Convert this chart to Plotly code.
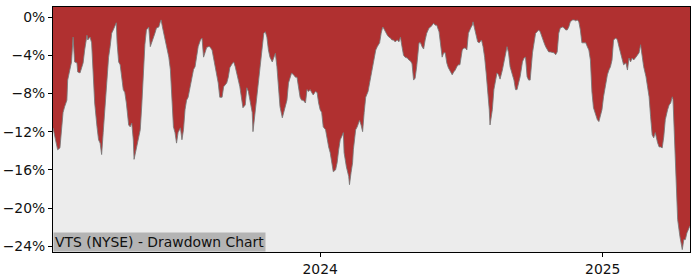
import plotly.graph_objects as go

# ---------------- data ----------------
DATES_2023 = [
    "2023-01-20", "2023-01-23", "2023-01-26", "2023-01-29", "2023-01-31",
    "2023-02-02", "2023-02-04", "2023-02-07", "2023-02-08", "2023-02-11", "2023-02-13", "2023-02-15",
    "2023-02-17", "2023-02-20", "2023-02-21", "2023-02-24", "2023-02-26", "2023-02-28",
    "2023-03-02", "2023-03-05", "2023-03-06", "2023-03-09", "2023-03-11", "2023-03-13", "2023-03-15",
    "2023-03-18", "2023-03-20", "2023-03-22", "2023-03-24", "2023-03-26", "2023-03-28", "2023-03-31",
    "2023-04-02", "2023-04-04", "2023-04-06", "2023-04-08", "2023-04-10", "2023-04-12", "2023-04-13",
    "2023-04-15", "2023-04-17", "2023-04-19", "2023-04-21", "2023-04-23", "2023-04-25", "2023-04-28",
    "2023-04-30",
    "2023-05-02", "2023-05-04", "2023-05-05", "2023-05-08", "2023-05-11", "2023-05-13", "2023-05-15",
    "2023-05-17", "2023-05-19", "2023-05-21", "2023-05-24", "2023-05-26", "2023-05-28", "2023-05-30",
    "2023-06-01", "2023-06-03", "2023-06-06", "2023-06-08", "2023-06-09", "2023-06-11", "2023-06-14",
    "2023-06-16", "2023-06-19", "2023-06-21", "2023-06-23", "2023-06-25", "2023-06-27", "2023-06-29",
    "2023-07-01", "2023-07-04", "2023-07-06", "2023-07-08", "2023-07-10", "2023-07-12", "2023-07-14",
    "2023-07-17", "2023-07-19", "2023-07-21", "2023-07-23", "2023-07-25", "2023-07-27", "2023-07-30",
    "2023-08-01", "2023-08-03", "2023-08-05", "2023-08-07", "2023-08-09", "2023-08-11", "2023-08-14",
    "2023-08-16", "2023-08-18", "2023-08-20", "2023-08-22", "2023-08-24", "2023-08-27", "2023-08-29",
    "2023-08-31",
    "2023-09-02", "2023-09-04", "2023-09-06", "2023-09-09", "2023-09-11", "2023-09-13", "2023-09-15",
    "2023-09-17", "2023-09-19", "2023-09-22", "2023-09-23", "2023-09-26", "2023-09-28", "2023-09-30",
    "2023-10-02", "2023-10-05", "2023-10-06", "2023-10-08", "2023-10-10", "2023-10-11", "2023-10-13",
    "2023-10-15", "2023-10-18", "2023-10-20", "2023-10-22", "2023-10-24", "2023-10-26", "2023-10-28",
    "2023-10-31",
    "2023-11-02", "2023-11-04", "2023-11-06", "2023-11-08", "2023-11-10", "2023-11-13", "2023-11-15",
    "2023-11-17", "2023-11-19", "2023-11-21", "2023-11-23", "2023-11-25", "2023-11-28", "2023-11-30",
    "2023-12-02", "2023-12-04", "2023-12-06", "2023-12-08", "2023-12-10", "2023-12-13", "2023-12-15",
    "2023-12-17", "2023-12-19", "2023-12-21", "2023-12-23", "2023-12-26", "2023-12-28", "2023-12-30",
]
DD_2023 = [
    -11.6, -12.85, -13.9, -13.7, -12.1,
    -10.0, -9.4, -8.7, -6.6, -5.5, -4.7, -2.1,
    -4.7, -4.8, -5.75, -5.85, -5.2, -4.8,
    -3.45, -1.9, -2.4, -2.1, -2.7, -5.75, -9.0,
    -11.5, -12.85, -13.2, -14.4, -12.1, -9.7, -6.6,
    -4.2, -3.1, -1.7, -1.35, -1.05, -0.6, -2.7,
    -4.7, -5.0, -6.3, -7.6, -7.9, -9.0, -11.3,
    -11.5,
    -11.1, -12.85, -14.9, -13.6, -12.3, -11.8, -9.2,
    -6.1, -2.9, -1.35, -1.05, -3.1, -2.7, -2.1,
    -1.7, -1.15, -1.05, -0.5, -0.3, -1.15, -2.4,
    -3.1, -4.2, -5.5, -8.7, -11.5, -12.1, -13.2,
    -12.1, -11.6, -12.85, -11.8, -9.7, -8.7, -8.4,
    -7.3, -6.3, -5.5, -5.2, -4.3, -3.1, -2.4,
    -2.2, -4.2, -3.8, -3.2, -3.1, -3.1, -3.45,
    -4.3, -5.2, -6.4, -6.9, -8.4, -8.4, -7.3,
    -7.1,
    -6.9, -6.3, -5.3, -4.9, -4.7, -5.2, -6.1,
    -6.6, -7.3, -8.7, -9.5, -9.2, -7.4, -7.8,
    -8.7, -10.0, -12.0, -10.45, -9.5, -8.7, -6.9,
    -5.2, -3.1, -1.7, -1.55, -2.1, -3.45, -4.2,
    -4.7,
    -4.2, -3.8, -5.2, -7.3, -9.4, -10.55, -10.0,
    -9.4, -8.7, -6.9, -6.3, -5.85, -6.1, -6.3,
    -6.3, -7.3, -8.4, -8.7, -8.7, -9.0, -7.6,
    -7.8, -7.6, -7.9, -8.15, -7.8, -7.9, -9.0,
]

DATES_2024 = [
    "2024-01-01", "2024-01-03", "2024-01-05", "2024-01-08", "2024-01-10", "2024-01-12", "2024-01-14",
    "2024-01-16", "2024-01-18", "2024-01-21", "2024-01-23", "2024-01-25", "2024-01-27", "2024-01-29",
    "2024-01-31",
    "2024-02-01", "2024-02-04", "2024-02-07", "2024-02-08", "2024-02-10", "2024-02-12", "2024-02-13",
    "2024-02-15", "2024-02-16", "2024-02-18", "2024-02-21", "2024-02-23", "2024-02-25", "2024-02-27",
    "2024-02-29",
    "2024-03-03", "2024-03-05", "2024-03-07", "2024-03-09", "2024-03-11", "2024-03-13", "2024-03-15",
    "2024-03-18", "2024-03-20", "2024-03-22", "2024-03-23", "2024-03-26", "2024-03-28", "2024-03-30",
    "2024-04-01", "2024-04-03", "2024-04-05", "2024-04-07", "2024-04-10", "2024-04-12", "2024-04-14",
    "2024-04-16", "2024-04-18", "2024-04-20", "2024-04-23", "2024-04-25", "2024-04-27", "2024-04-29",
    "2024-05-01", "2024-05-03", "2024-05-05", "2024-05-08", "2024-05-10", "2024-05-12", "2024-05-14",
    "2024-05-16", "2024-05-18", "2024-05-21", "2024-05-23", "2024-05-25", "2024-05-27", "2024-05-29",
    "2024-05-31",
    "2024-06-03", "2024-06-05", "2024-06-07", "2024-06-09", "2024-06-11", "2024-06-13", "2024-06-15",
    "2024-06-18", "2024-06-20", "2024-06-22", "2024-06-24", "2024-06-26", "2024-06-28", "2024-06-30",
    "2024-07-03", "2024-07-05", "2024-07-07", "2024-07-09", "2024-07-11", "2024-07-14", "2024-07-16",
    "2024-07-17", "2024-07-19", "2024-07-21", "2024-07-23", "2024-07-25", "2024-07-28", "2024-07-30",
    "2024-08-01", "2024-08-03", "2024-08-05", "2024-08-07", "2024-08-08", "2024-08-11", "2024-08-13",
    "2024-08-15", "2024-08-17", "2024-08-19", "2024-08-21", "2024-08-24", "2024-08-26", "2024-08-28",
    "2024-08-30",
    "2024-09-01", "2024-09-03", "2024-09-06", "2024-09-08", "2024-09-10", "2024-09-12", "2024-09-14",
    "2024-09-16", "2024-09-19", "2024-09-21", "2024-09-23", "2024-09-25", "2024-09-27", "2024-09-29",
    "2024-10-02", "2024-10-04", "2024-10-06", "2024-10-08", "2024-10-10", "2024-10-12", "2024-10-15",
    "2024-10-17", "2024-10-19", "2024-10-21", "2024-10-23", "2024-10-25", "2024-10-28", "2024-10-30",
    "2024-11-01", "2024-11-03", "2024-11-05", "2024-11-07", "2024-11-10", "2024-11-12", "2024-11-14",
    "2024-11-16", "2024-11-18", "2024-11-20", "2024-11-23", "2024-11-25", "2024-11-27", "2024-11-29",
    "2024-12-01", "2024-12-03", "2024-12-05", "2024-12-07", "2024-12-10", "2024-12-12", "2024-12-14",
    "2024-12-16", "2024-12-18", "2024-12-20", "2024-12-23", "2024-12-25", "2024-12-27", "2024-12-29",
    "2024-12-31",
]
DD_2024 = [
    -9.7, -10.0, -11.5, -11.8, -12.85, -13.6, -14.2,
    -15.25, -16.2, -16.0, -15.25, -13.9, -12.85, -12.5,
    -12.1,
    -14.2, -15.7, -16.7, -17.55, -16.3, -15.25, -13.9,
    -12.5, -11.8, -11.5, -10.8, -11.3, -12.0, -10.0,
    -8.4,
    -7.8, -6.9, -5.85, -5.0, -4.2, -3.45, -3.1,
    -2.7, -1.7, -1.05, -1.15, -1.7, -1.9, -2.1,
    -2.2, -2.4, -2.4, -2.6, -2.4, -2.6, -2.1,
    -3.1, -4.0, -4.2, -4.3, -4.5, -4.6, -4.9,
    -6.6, -6.4, -5.2, -2.7, -2.7, -3.1, -3.35,
    -2.4, -1.7, -1.15, -1.05, -0.85, -0.65, -0.85,
    -0.85,
    -1.55, -3.25, -4.2, -3.75, -3.75, -4.8, -5.3,
    -5.75, -6.05, -5.75, -5.55, -5.2, -5.0, -5.0,
    -3.45, -3.25, -3.25, -3.45, -1.7, -1.15, -0.85,
    -0.5, -1.15, -1.7, -2.6, -2.7, -2.4, -3.1,
    -4.2, -5.85, -7.6, -9.7, -11.3, -9.7, -7.6,
    -6.6, -5.85, -6.05, -6.5, -5.55, -4.8, -3.75,
    -3.1,
    -3.75, -5.2, -6.05, -6.6, -7.6, -7.6, -6.9,
    -6.25, -4.7, -4.3, -4.2, -6.25, -6.6, -6.6,
    -3.75, -2.4, -1.7, -1.55, -1.35, -1.55, -2.4,
    -2.7, -3.1, -3.45, -3.65, -3.65, -3.75, -3.75,
    -3.95, -3.65, -1.7, -1.15, -1.05, -1.15, -1.35,
    -1.35, -1.05, -0.5, -0.3, -0.3, -0.4, -0.3,
    -0.5, -1.35, -2.7, -2.7, -2.7, -3.1, -3.45,
    -4.5, -7.85, -9.5, -10.35, -10.75, -10.95, -10.45,
    -9.7,
]

DATES_2025 = [
    "2025-01-02", "2025-01-05", "2025-01-07", "2025-01-09", "2025-01-11", "2025-01-13", "2025-01-15",
    "2025-01-18", "2025-01-20", "2025-01-22", "2025-01-24", "2025-01-26", "2025-01-28", "2025-01-31",
    "2025-02-02", "2025-02-04", "2025-02-06", "2025-02-08", "2025-02-10", "2025-02-13", "2025-02-15",
    "2025-02-17", "2025-02-19", "2025-02-21", "2025-02-23", "2025-02-26", "2025-02-28",
    "2025-03-02", "2025-03-04", "2025-03-06", "2025-03-08", "2025-03-10", "2025-03-13", "2025-03-15",
    "2025-03-17", "2025-03-19", "2025-03-21", "2025-03-23", "2025-03-26", "2025-03-28", "2025-03-30",
    "2025-04-01", "2025-04-02", "2025-04-04", "2025-04-05", "2025-04-07", "2025-04-08", "2025-04-11",
    "2025-04-12", "2025-04-14", "2025-04-16", "2025-04-18", "2025-04-20", "2025-04-22", "2025-04-24",
]
DD_2025 = [
    -8.35, -6.9, -6.05, -5.55, -5.2, -4.5, -2.4,
    -2.2, -2.4, -3.1, -3.75, -4.5, -5.0, -4.8,
    -5.55, -4.3, -4.7, -4.3, -4.5, -4.2, -3.95,
    -3.75, -2.9, -3.95, -5.2, -6.25, -7.3,
    -8.35, -10.45, -12.35, -12.65, -12.1, -13.15, -13.6,
    -13.6, -13.7, -12.55, -10.75, -9.7, -9.2, -9.0,
    -8.35, -8.65, -12.85, -16.3, -19.1, -21.2, -23.0,
    -23.6, -24.35, -23.3, -23.3, -22.6, -22.25, -21.85,
]

Y_TICK_VALUES = [0, -4, -8, -12, -16, -20, -24]
Y_TICK_LABELS = ["0%", "\u22124%", "\u22128%", "\u221212%", "\u221216%", "\u221220%", "\u221224%"]
X_TICK_VALUES = ["2024-01-01", "2025-01-01"]
X_TICK_LABELS = ["2024", "2025"]
TITLE = "VTS (NYSE) - Drawdown Chart"

# ---------------- styling ----------------
Y_MIN, Y_MAX = -24.6, 1.05
RED = "#b03030"
GREY = "#ececec"
FONT = "DejaVu Sans"
FONT_SIZE = 13.9

dates = DATES_2023 + DATES_2024 + DATES_2025
dd = DD_2023 + DD_2024 + DD_2025

fig = go.Figure()
# baseline at the bottom of the axis, used only as the fill target
fig.add_trace(go.Scatter(
    x=dates, y=[Y_MIN] * len(dates), mode="lines",
    line=dict(width=0, color=GREY), hoverinfo="skip", showlegend=False,
))
fig.add_trace(go.Scatter(
    x=dates, y=dd, mode="lines", fill="tonexty", fillcolor=GREY,
    line=dict(color="rgba(120,120,120,0.85)", width=1),
    showlegend=False,
))

fig.add_annotation(
    text=TITLE, xref="paper", yref="paper", x=0, y=0,
    xanchor="left", yanchor="bottom", showarrow=False,
    bgcolor="#b4b4b4", borderpad=1,
    font=dict(family=FONT, size=FONT_SIZE, color="#111111"),
)

axis_style = dict(
    showgrid=False, zeroline=False, showline=True, linecolor="black", linewidth=1,
    mirror=True, ticks="outside", ticklen=4, tickcolor="black", automargin=False,
)

fig.update_layout(
    width=700, height=280,
    margin=dict(l=53, r=10, t=7, b=28, autoexpand=False),
    paper_bgcolor="white", plot_bgcolor=RED,
    font=dict(family=FONT, size=FONT_SIZE, color="#111111"),
    xaxis=dict(range=[dates[0], dates[-1]], tickvals=X_TICK_VALUES, ticktext=X_TICK_LABELS, **axis_style),
    yaxis=dict(range=[Y_MIN, Y_MAX], tickvals=Y_TICK_VALUES, ticktext=Y_TICK_LABELS, **axis_style),
)

fig.write_html("out.html")
